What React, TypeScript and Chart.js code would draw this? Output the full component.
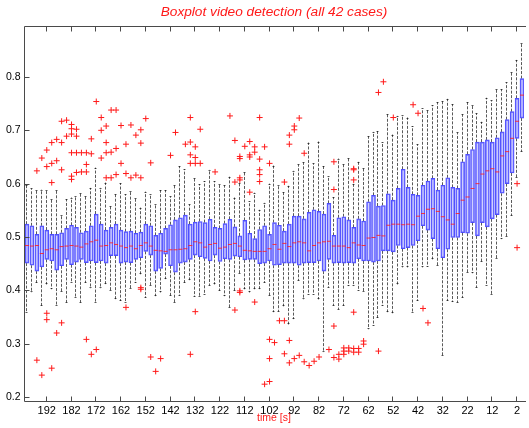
import React, { useEffect, useRef } from "react";
import { Chart, registerables } from "chart.js";

Chart.register(...registerables);

// time of each box (s), left to right
const times = [
  200, 198, 196, 194, 192, 190, 188, 186, 184, 182,
  180, 178, 176, 174, 172, 170, 168, 166, 164, 162,
  160, 158, 156, 154, 152, 150, 148, 146, 144, 142,
  140, 138, 136, 134, 132, 130, 128, 126, 124, 122,
  120, 118, 116, 114, 112, 110, 108, 106, 104, 102,
  100, 98, 96, 94, 92, 90, 88, 86, 84, 82,
  80, 78, 76, 74, 72, 70, 68, 66, 64, 62,
  60, 58, 56, 54, 52, 50, 48, 46, 44, 42,
  40, 38, 36, 34, 32, 30, 28, 26, 24, 22,
  20, 18, 16, 14, 12, 10, 8, 6, 4, 2,
  0,
];

const whiskerLow = [
  0.358, 0.396, 0.414, 0.371, 0.411, 0.402, 0.371, 0.396, 0.377, 0.414,
  0.386, 0.377, 0.414, 0.404, 0.377, 0.404, 0.411, 0.399, 0.383, 0.380,
  0.377, 0.402, 0.414, 0.430, 0.386, 0.408, 0.389, 0.396, 0.421, 0.389,
  0.377, 0.390, 0.414, 0.419, 0.388, 0.388, 0.392, 0.409, 0.411, 0.399,
  0.389, 0.366, 0.399, 0.430, 0.402, 0.396, 0.402, 0.402, 0.414, 0.389,
  0.359, 0.360, 0.370, 0.336, 0.346, 0.418, 0.383, 0.392, 0.392, 0.383,
  0.284, 0.405, 0.371, 0.364, 0.371, 0.408, 0.408, 0.399, 0.396, 0.327,
  0.334, 0.348, 0.371, 0.359, 0.357, 0.411, 0.443, 0.443, 0.358, 0.380,
  0.443, 0.444, 0.458, 0.446, 0.277, 0.380, 0.378, 0.377, 0.386, 0.433,
  0.432, 0.405, 0.453, 0.409, 0.392, 0.458, 0.496, 0.500, 0.540, 0.610,
  0.660,
];

const q1 = [
  0.451, 0.447, 0.436, 0.444, 0.458, 0.455, 0.438, 0.446, 0.458, 0.448,
  0.453, 0.458, 0.452, 0.455, 0.452, 0.455, 0.451, 0.465, 0.465, 0.451,
  0.453, 0.452, 0.458, 0.461, 0.473, 0.466, 0.436, 0.441, 0.468, 0.446,
  0.434, 0.451, 0.453, 0.458, 0.466, 0.463, 0.460, 0.455, 0.466, 0.454,
  0.459, 0.458, 0.464, 0.463, 0.457, 0.458, 0.458, 0.450, 0.451, 0.455,
  0.447, 0.448, 0.451, 0.451, 0.451, 0.447, 0.451, 0.452, 0.452, 0.455,
  0.436, 0.458, 0.451, 0.452, 0.451, 0.452, 0.451, 0.459, 0.455, 0.455,
  0.453, 0.455, 0.474, 0.474, 0.472, 0.484, 0.478, 0.480, 0.484, 0.493,
  0.521, 0.513, 0.497, 0.478, 0.461, 0.477, 0.499, 0.499, 0.508, 0.507,
  0.527, 0.502, 0.527, 0.519, 0.534, 0.542, 0.582, 0.600, 0.620, 0.685,
  0.723,
];

const median = [
  0.484, 0.483, 0.484, 0.469, 0.476, 0.478, 0.476, 0.482, 0.483, 0.484,
  0.483, 0.481, 0.487, 0.491, 0.494, 0.483, 0.484, 0.489, 0.486, 0.483,
  0.480, 0.483, 0.478, 0.484, 0.489, 0.483, 0.475, 0.474, 0.473, 0.476,
  0.476, 0.477, 0.478, 0.484, 0.491, 0.489, 0.481, 0.486, 0.488, 0.479,
  0.481, 0.486, 0.488, 0.483, 0.475, 0.474, 0.473, 0.473, 0.473, 0.478,
  0.486, 0.477, 0.488, 0.482, 0.489, 0.491, 0.489, 0.474, 0.484, 0.489,
  0.491, 0.492, 0.483, 0.483, 0.483, 0.480, 0.489, 0.485, 0.484, 0.498,
  0.499, 0.503, 0.502, 0.522, 0.524, 0.524, 0.523, 0.524, 0.523, 0.539,
  0.544, 0.552, 0.553, 0.548, 0.538, 0.532, 0.524, 0.544, 0.569, 0.575,
  0.591, 0.600, 0.618, 0.624, 0.628, 0.622, 0.652, 0.660, 0.685, 0.717,
  0.766,
];

const q3 = [
  0.524, 0.521, 0.505, 0.521, 0.513, 0.505, 0.505, 0.508, 0.516, 0.522,
  0.518, 0.508, 0.511, 0.521, 0.543, 0.524, 0.513, 0.518, 0.524, 0.513,
  0.510, 0.511, 0.507, 0.509, 0.524, 0.521, 0.503, 0.507, 0.516, 0.523,
  0.532, 0.536, 0.541, 0.524, 0.528, 0.529, 0.527, 0.533, 0.518, 0.516,
  0.525, 0.533, 0.519, 0.502, 0.531, 0.507, 0.497, 0.514, 0.521, 0.505,
  0.527, 0.522, 0.511, 0.524, 0.539, 0.539, 0.534, 0.546, 0.551, 0.548,
  0.543, 0.563, 0.503, 0.536, 0.538, 0.532, 0.518, 0.534, 0.530, 0.566,
  0.578, 0.558, 0.559, 0.581, 0.569, 0.591, 0.627, 0.593, 0.580, 0.578,
  0.597, 0.605, 0.610, 0.588, 0.597, 0.611, 0.593, 0.591, 0.641, 0.655,
  0.664, 0.678, 0.678, 0.682, 0.678, 0.686, 0.697, 0.720, 0.735, 0.760,
  0.797,
];

const whiskerHigh = [
  0.597, 0.591, 0.588, 0.589, 0.588, 0.571, 0.589, 0.541, 0.571, 0.574,
  0.576, 0.583, 0.577, 0.592, 0.630, 0.592, 0.602, 0.558, 0.580, 0.601,
  0.580, 0.586, 0.574, 0.555, 0.585, 0.580, 0.561, 0.588, 0.588, 0.576,
  0.597, 0.633, 0.627, 0.561, 0.611, 0.599, 0.605, 0.626, 0.605, 0.599,
  0.597, 0.613, 0.574, 0.602, 0.621, 0.567, 0.583, 0.551, 0.564, 0.600,
  0.634, 0.597, 0.585, 0.596, 0.624, 0.636, 0.640, 0.677, 0.638, 0.679,
  0.633, 0.614, 0.575, 0.647, 0.636, 0.649, 0.600, 0.641, 0.630, 0.689,
  0.697, 0.699, 0.678, 0.730, 0.692, 0.727, 0.728, 0.724, 0.708, 0.674,
  0.741, 0.739, 0.747, 0.753, 0.755, 0.759, 0.749, 0.696, 0.730, 0.753,
  0.747, 0.732, 0.716, 0.761, 0.756, 0.778, 0.777, 0.790, 0.810, 0.832,
  0.864,
];

const outlierTimes = [
  196, 196,
  194, 194,
  192, 192, 192, 192,
  190, 190, 190, 190,
  188, 188, 188,
  186, 186, 186, 186,
  184, 184,
  182, 182, 182, 182, 182, 182,
  180, 180, 180, 180,
  178, 178,
  176, 176, 176, 176,
  174, 174, 174,
  172, 172,
  170, 170, 170,
  168, 168, 168, 168,
  166, 166, 166,
  164, 164, 164,
  162, 162,
  160, 160, 160,
  158, 158,
  156, 156,
  154, 154, 154, 154, 154,
  152,
  150, 150,
  148,
  146,
  142,
  140,
  136,
  134, 134, 134, 134, 134,
  132, 132, 132, 132,
  130, 130,
  124,
  118,
  116, 116, 116,
  114, 114, 114, 114, 114, 114,
  112,
  110, 110, 110, 110,
  108, 108, 108,
  106, 106, 106, 106, 106,
  104, 104,
  102, 102, 102, 102,
  100,
  98,
  96, 96, 96,
  94, 94, 94, 94,
  92, 92, 92,
  90, 90,
  88, 88,
  86,
  84,
  82,
  78,
  76, 76, 76, 76,
  74, 74,
  72, 72, 72,
  70, 70,
  68, 68, 68, 68, 68, 68,
  66, 66,
  64, 64,
  58, 58,
  56,
  52,
  44,
  42,
  40,
  38,
  2, 2,
];

const outlierValues = [
  0.624, 0.269,
  0.648, 0.241,
  0.663, 0.632, 0.357, 0.345,
  0.677, 0.638, 0.602, 0.254,
  0.683, 0.643, 0.320,
  0.717, 0.677, 0.626, 0.339,
  0.719, 0.689,
  0.711, 0.703, 0.693, 0.658, 0.614, 0.608,
  0.702, 0.689, 0.658, 0.621,
  0.658, 0.622,
  0.658, 0.636, 0.622, 0.308,
  0.684, 0.656, 0.280,
  0.754, 0.289,
  0.724, 0.700, 0.648,
  0.708, 0.677, 0.658, 0.611,
  0.738, 0.659, 0.611,
  0.738, 0.666, 0.617,
  0.709, 0.638,
  0.674, 0.619, 0.368,
  0.710, 0.611,
  0.691, 0.616,
  0.701, 0.676, 0.611, 0.405, 0.402,
  0.722,
  0.639, 0.275,
  0.248,
  0.272,
  0.653,
  0.696,
  0.674,
  0.724, 0.678, 0.654, 0.638, 0.280,
  0.669, 0.649, 0.638, 0.360,
  0.702, 0.638,
  0.622,
  0.727,
  0.681, 0.603, 0.363,
  0.651, 0.647, 0.611, 0.607, 0.399, 0.396,
  0.670,
  0.679, 0.654, 0.650, 0.584,
  0.669, 0.659, 0.378,
  0.724, 0.646, 0.626, 0.617, 0.604,
  0.669, 0.224,
  0.638, 0.308, 0.272, 0.229,
  0.302,
  0.343,
  0.603, 0.343, 0.281,
  0.691, 0.674, 0.306, 0.264,
  0.708, 0.701, 0.272,
  0.723, 0.278,
  0.657, 0.266,
  0.259,
  0.267,
  0.275,
  0.289,
  0.641, 0.589, 0.333, 0.274,
  0.280, 0.271,
  0.292, 0.286, 0.280,
  0.292, 0.286,
  0.628, 0.626, 0.607, 0.359, 0.291, 0.284,
  0.291, 0.284,
  0.305, 0.299,
  0.771, 0.286,
  0.791,
  0.724,
  0.748,
  0.732,
  0.366,
  0.339,
  0.600, 0.480,
];

const xTickValues = [192, 182, 172, 162, 152, 142, 132, 122, 112, 102, 92, 82, 72, 62, 52, 42, 32, 22, 12, 2];
const yTickValues = [0.2, 0.3, 0.4, 0.5, 0.6, 0.7, 0.8];

const FONT = '"Liberation Sans", Arial, Helvetica, sans-serif';

export default function App() {
  const ref = useRef<HTMLCanvasElement | null>(null);

  useEffect(() => {
    const canvas = ref.current;
    if (!canvas) return;

    const whiskerPlugin = {
      id: "whiskers",
      beforeDatasetsDraw(chart: any) {
        const { ctx, chartArea: a, scales } = chart;
        const xs = scales.x;
        const ys = scales.y;
        ctx.save();
        ctx.beginPath();
        ctx.rect(a.left, a.top, a.right - a.left, a.bottom - a.top);
        ctx.clip();
        ctx.lineWidth = 1;
        ctx.strokeStyle = "rgba(20,20,20,0.7)";
        ctx.setLineDash([3, 1.5]);
        ctx.beginPath();
        for (let i = 0; i < times.length; i++) {
          const px = Math.round(xs.getPixelForValue(times[i])) - 0.5;
          ctx.moveTo(px, ys.getPixelForValue(q3[i]));
          ctx.lineTo(px, ys.getPixelForValue(whiskerHigh[i]));
          ctx.moveTo(px, ys.getPixelForValue(q1[i]));
          ctx.lineTo(px, ys.getPixelForValue(whiskerLow[i]));
        }
        ctx.stroke();
        ctx.setLineDash([]);
        ctx.beginPath();
        for (let i = 0; i < times.length; i++) {
          const px = Math.round(xs.getPixelForValue(times[i])) - 0.5;
          const yh = Math.round(ys.getPixelForValue(whiskerHigh[i])) + 0.5;
          const yl = Math.round(ys.getPixelForValue(whiskerLow[i])) - 0.5;
          ctx.moveTo(px - 1, yh);
          ctx.lineTo(px + 1, yh);
          ctx.moveTo(px - 1, yl);
          ctx.lineTo(px + 1, yl);
        }
        ctx.stroke();
        ctx.restore();
      },
    };

    const framePlugin = {
      id: "frame",
      afterDraw(chart: any) {
        const { ctx, chartArea: a, scales } = chart;
        const xs = scales.x;
        const ys = scales.y;
        const L = Math.round(a.left) + 0.5;
        const R = Math.round(a.right) + 2;
        const T = Math.round(a.top) + 0.5;
        const B = Math.round(a.bottom) - 0.5;
        ctx.save();
        ctx.strokeStyle = "#4a4a4a";
        ctx.lineWidth = 1;
        ctx.beginPath();
        ctx.moveTo(R, T);
        ctx.lineTo(L, T);
        ctx.lineTo(L, B);
        ctx.lineTo(R, B);
        ctx.stroke();
        ctx.beginPath();
        for (const v of xTickValues) {
          const px = Math.round(xs.getPixelForValue(v)) - 0.5;
          ctx.moveTo(px, B);
          ctx.lineTo(px, B - 5);
          ctx.moveTo(px, T);
          ctx.lineTo(px, T + 5);
        }
        for (const v of yTickValues) {
          const py = Math.round(ys.getPixelForValue(v)) + 0.5;
          ctx.moveTo(L, py);
          ctx.lineTo(L + 5, py);
        }
        ctx.stroke();
        ctx.restore();
      },
    };

    const chart = new Chart(canvas, {
      type: "bar",
      data: {
        datasets: [
          {
            type: "scatter",
            label: "outliers",
            data: outlierTimes.map((t, i) => ({ x: t, y: outlierValues[i] })),
            pointStyle: "cross",
            pointRadius: 3,
            pointBorderWidth: 1,
            borderColor: "#ff1a1a",
            backgroundColor: "#ff1a1a",
            order: 0,
          } as any,
          {
            type: "scatter",
            label: "median",
            data: times.map((t, i) => ({ x: t, y: median[i] })),
            pointStyle: "line",
            pointRadius: 2,
            pointBorderWidth: 1,
            borderColor: "rgba(255,30,30,0.85)",
            backgroundColor: "rgba(255,30,30,0.85)",
            order: 1,
          } as any,
          {
            type: "bar",
            label: "box",
            data: times.map((t, i) => ({ x: t, y: [q1[i], q3[i]] })),
            barThickness: 4,
            borderWidth: 1,
            borderSkipped: false,
            borderColor: "rgba(60,60,255,0.9)",
            backgroundColor: "rgba(150,150,255,0.45)",
            order: 2,
          } as any,
        ],
      },
      options: {
        animation: false,
        responsive: false,
        devicePixelRatio: 1,
        events: [],
        layout: { padding: 0 },
        plugins: {
          legend: { display: false },
          tooltip: { enabled: false },
          title: {
            display: true,
            text: "Boxplot video detection (all 42 cases)",
            color: "#ff1a1a",
            fullSize: false,
            font: { family: FONT, size: 13.7, style: "italic", weight: "normal" },
            padding: { top: 3.5, bottom: 6.06 },
          },
        },
        scales: {
          x: {
            type: "linear",
            reverse: true,
            offset: false,
            min: -0.8,
            max: 201.2,
            grid: { display: false, drawTicks: false, offset: false },
            border: { display: false },
            afterBuildTicks: (scale: any) => {
              scale.ticks = xTickValues.map((v) => ({ value: v }));
            },
            afterFit: (scale: any) => {
              scale.height = 26;
              scale.paddingLeft = 0;
              scale.paddingRight = 0;
            },
            ticks: {
              autoSkip: false,
              maxRotation: 0,
              minRotation: 0,
              padding: 2.5,
              color: "#000",
              font: { family: FONT, size: 11 },
              callback: (v: any) => String(v),
            },
            title: {
              display: true,
              text: "time [s]",
              color: "#ff1a1a",
              font: { family: FONT, size: 10.5 },
              padding: { top: 0, bottom: 4 },
            },
          },
          y: {
            type: "linear",
            min: 0.1906,
            max: 0.8956,
            grid: { display: false, drawTicks: false },
            border: { display: false },
            afterBuildTicks: (scale: any) => {
              scale.ticks = yTickValues.map((v) => ({ value: v }));
            },
            afterFit: (scale: any) => {
              scale.width = 24;
            },
            ticks: {
              padding: 3.5,
              color: "#000",
              font: { family: FONT, size: 10.5 },
              callback: (v: any) => Number(v).toFixed(1),
            },
          },
        },
      } as any,
      plugins: [whiskerPlugin, framePlugin],
    });

    return () => chart.destroy();
  }, []);

  return (
    <div style={{ position: "absolute", left: 0, top: 0, width: 529, height: 428, background: "#fff", overflow: "hidden" }}>
      <canvas ref={ref} width={529} height={428} style={{ display: "block", width: 529, height: 428 }} />
    </div>
  );
}
